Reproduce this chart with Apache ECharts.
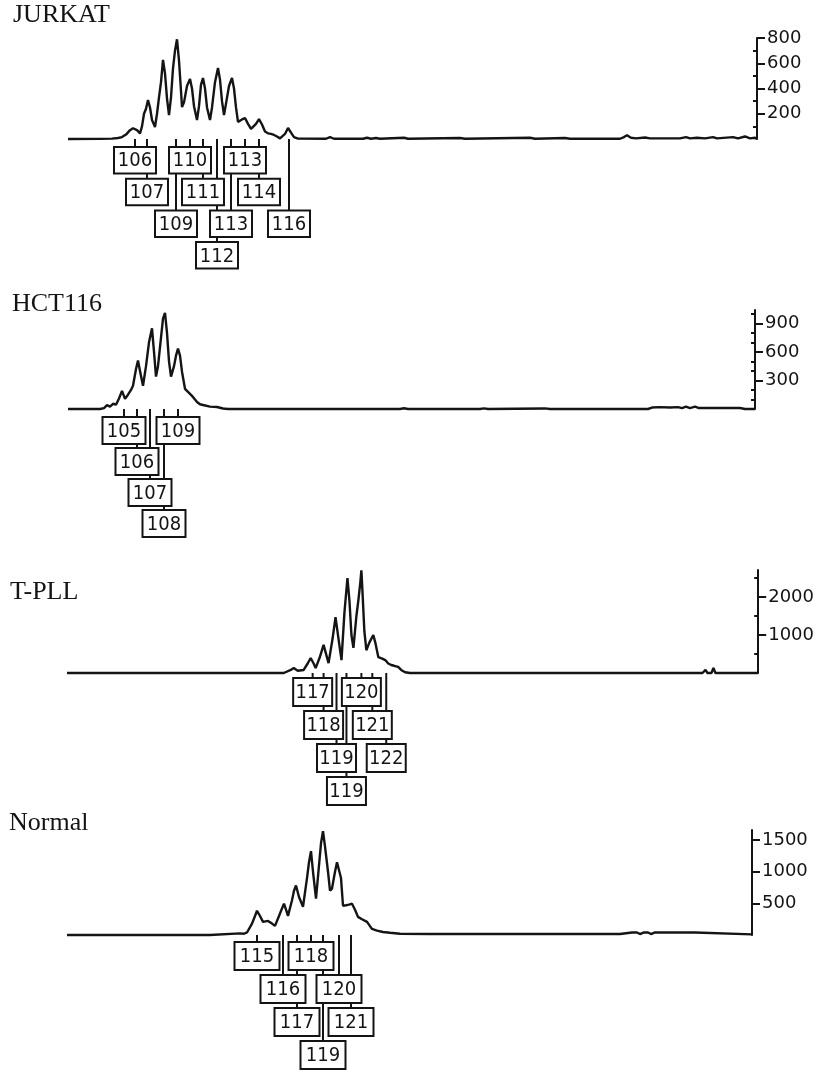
<!DOCTYPE html>
<html><head><meta charset="utf-8">
<script src="https://cdn.jsdelivr.net/npm/echarts@6/dist/echarts.min.js"></script>
<style>html,body{margin:0;padding:0;background:#fff}#c{width:817px;height:1073px}</style>
</head><body><div id="c"></div>
<script>
// ---------------- DATA ----------------
const panelNames = ['JURKAT', 'HCT116', 'T-PLL', 'Normal'];

// traces: [scan position, fluorescence intensity]
const jurkatTrace = [[68,0],[100,1],[112,3],[118,8],[122,15],[126,35],[130,70],[133,85],[135,88],[137,70],[140,45],[142,100],[144,200],[146,240],[148,309],[150,250],[152,150],[155,95],[157,200],[159,330],[161,450],[163,626],[165,520],[167,320],[169,190],[171,330],[173,560],[175,700],[177,790],[179,620],[181,380],[182,253],[184,290],[187,420],[190,475],[192,400],[194,260],[197,150],[199,260],[201,430],[203,483],[205,400],[207,250],[210,150],[212,250],[215,450],[218,562],[220,470],[222,300],[224,190],[226,280],[229,420],[232,483],[234,400],[236,250],[238,135],[240,130],[242,155],[245,166],[248,120],[251,80],[253,75],[256,120],[259,158],[262,115],[265,60],[268,45],[271,40],[274,32],[277,20],[280,5],[282,0],[285,40],[288,87],[291,50],[294,15],[298,3],[326,2],[330,15],[334,2],[363,2],[367,10],[371,2],[376,8],[380,2],[404,10],[408,2],[460,8],[465,2],[530,10],[535,2],[565,8],[570,2],[620,2],[624,15],[627,30],[631,10],[636,5],[645,12],[650,5],[680,5],[686,15],[690,5],[697,10],[705,5],[713,15],[717,5],[733,15],[738,5],[745,20],[750,5],[755,10],[757,0]];
const hct116Trace = [[68,0],[100,0],[104,10],[107,40],[110,25],[113,55],[116,45],[119,110],[122,190],[125,106],[128,150],[131,200],[133,244],[136,420],[138,509],[140,400],[143,244],[146,450],[149,700],[152,848],[154,600],[156,340],[158,450],[161,750],[163,950],[165,1010],[167,800],[169,500],[171,340],[174,450],[176,560],[178,636],[180,560],[182,392],[185,212],[189,170],[192,138],[195,100],[197,74],[200,50],[203,42],[210,25],[217,21],[223,5],[228,0],[400,0],[404,8],[408,0],[480,0],[484,6],[488,0],[545,6],[550,0],[648,0],[652,15],[660,20],[670,15],[678,20],[682,10],[686,25],[690,10],[695,25],[699,10],[720,10],[722,20],[725,10],[740,10],[742,20],[745,0],[755,0]];
const tpllTrace = [[67,0],[200,0],[260,2],[285,0],[292,80],[295,130],[299,60],[305,80],[309,250],[312,395],[315,250],[317,130],[321,400],[325,740],[328,450],[330,260],[334,900],[337,1470],[340,900],[343,340],[346,1600],[349,2500],[351,1900],[353,1000],[355,660],[358,1500],[360,1920],[362,2400],[363,2700],[364,2200],[366,1100],[368,600],[371,800],[375,1000],[377,800],[380,420],[384,380],[387,340],[390,250],[393,210],[396,190],[400,160],[403,80],[407,20],[412,0],[706,0],[709,80],[711,0],[715,0],[717,130],[719,0],[745,0],[747,30],[749,0],[762,0]];
const normalTrace = [[67,0],[210,0],[212,25],[240,25],[244,20],[247,40],[252,180],[255,300],[257,383],[260,300],[263,207],[268,223],[272,180],[275,144],[279,300],[282,420],[284,495],[286,400],[288,303],[292,550],[294,700],[296,782],[299,600],[303,447],[307,900],[309,1150],[311,1325],[313,1000],[316,575],[319,1100],[321,1450],[323,1640],[325,1400],[328,1000],[330,700],[332,734],[335,1000],[337,1150],[339,1181],[341,900],[343,463],[346,470],[349,480],[352,495],[355,400],[358,287],[362,250],[367,207],[370,140],[372,96],[377,70],[383,48],[390,35],[400,20],[430,15],[432,40],[434,15],[560,15],[620,15],[632,40],[637,40],[640,15],[644,40],[648,40],[651,15],[655,40],[695,40],[697,10],[752,10]];

// y-axis tick labels (major) and minor ticks
const jurkatTicks = [200, 400, 600, 800];
const jurkatMinor = [100, 300, 500, 700];
const hct116Ticks = [300, 600, 900];
const hct116Minor = [100, 200, 400, 500, 700, 800, 1000];
const tpllTicks = [1000, 2000];
const tpllMinor = [500, 1500, 2500];
const normalTicks = [500, 1000, 1500];
const normalMinor = [];

// peak labels (allele sizes), the scan position of the peak they point at, and stacking level
const jurkatLabels = ['106','107','109','110','111','112','113','113','114','116'];
const jurkatPeakPos = [135, 147, 176, 190, 203, 217, 245, 231, 259, 289];
const jurkatLevel = [1, 2, 3, 1, 2, 4, 1, 3, 2, 3];
const hct116Labels = ['105','106','107','108','109'];
const hct116PeakPos = [124, 137, 150, 164, 178];
const hct116Level = [1, 2, 3, 4, 1];
const tpllLabels = ['117','118','119','119','120','121','122'];
const tpllPeakPos = [314, 325, 338, 348, 363, 374, 388];
const tpllLevel = [1, 2, 3, 4, 1, 2, 3];
const normalLabels = ['115','116','117','118','119','120','121'];
const normalPeakPos = [257, 283, 297, 311, 323, 339, 351];
const normalLevel = [1, 2, 3, 1, 4, 2, 3];

// ---------------- LAYOUT ----------------
const layout = [
  {xMin:68, xMax:757, top:38,  base:139, yMax:800,  title:{left:13, top:2},   box:{gap:8, pitch:31.7, h:26.5, w:42}},
  {xMin:68, xMax:755, top:310, base:409, yMax:1040, title:{left:12, top:291}, box:{gap:8, pitch:31, h:27, w:43}},
  {xMin:67, xMax:762, top:570, base:673, yMax:2710, title:{left:10, top:579}, box:{gap:5, pitch:33, h:28, w:39}},
  {xMin:67, xMax:752, top:830, base:935, yMax:1660, title:{left:9,  top:810}, box:{gap:7, pitch:33, h:28, w:45}}
];

const traces = [jurkatTrace, hct116Trace, tpllTrace, normalTrace];
const ticks = [jurkatTicks, hct116Ticks, tpllTicks, normalTicks];
const minors = [jurkatMinor, hct116Minor, tpllMinor, normalMinor];
const labels = [jurkatLabels, hct116Labels, tpllLabels, normalLabels];
const peakPos = [jurkatPeakPos, hct116PeakPos, tpllPeakPos, normalPeakPos];
const levels = [jurkatLevel, hct116Level, tpllLevel, normalLevel];

const INK = '#141414';
const grid = [], xAxis = [], yAxis = [], series = [], title = [];

layout.forEach((L, i) => {
  grid.push({left: L.xMin, top: L.top, width: L.xMax - L.xMin, height: L.base - L.top});
  xAxis.push({type:'value', gridIndex:i, min:L.xMin, max:L.xMax, show:false});
  yAxis.push({
    type:'value', gridIndex:i, position:'right', min:0, max:L.yMax,
    axisLine:{show:true, onZero:false, lineStyle:{color:INK, width:2}},
    axisTick:{show:true, inside:false, length:8, customValues:ticks[i], lineStyle:{color:INK, width:2}},
    axisLabel:{show:true, customValues:ticks[i], margin:10, color:INK, fontSize:18, fontFamily:'DejaVu Sans',
      formatter:(v) => String(v)},
    splitLine:{show:false}
  });
  yAxis.push({
    type:'value', gridIndex:i, position:'right', min:0, max:L.yMax,
    axisLine:{show:false},
    axisTick:{show:minors[i].length > 0, inside:true, length:4, customValues:minors[i], lineStyle:{color:INK, width:2}},
    axisLabel:{show:false}, splitLine:{show:false}
  });
  title.push({text: panelNames[i], left: L.title.left, top: L.title.top, padding: 0,
    textStyle:{fontFamily:'Liberation Serif', fontSize:26, fontWeight:'normal', color:INK}});

  series.push({
    type:'line', xAxisIndex:i, yAxisIndex:2*i, data:traces[i], showSymbol:false, symbol:'none',
    lineStyle:{color:INK, width:2.4}, z:2, clip:false, animation:false
  });

  const marks = peakPos[i].map((p, k) => [p, levels[i][k]]);
  const B = L.box;
  const boxTop = (api) => {
    const p = api.coord([api.value(0), 0]);
    return [p[0], p[1], p[1] + B.gap + (api.value(1) - 1) * B.pitch];
  };
  series.push({
    type:'custom', xAxisIndex:i, yAxisIndex:2*i, data:marks, z:3, clip:false, animation:false,
    encode:{x:0, y:-1},
    renderItem:(params, api) => {
      const [x, y0, t] = boxTop(api);
      return {type:'line', shape:{x1:x, y1:y0, x2:x, y2:t}, style:{stroke:INK, lineWidth:2}};
    }
  });
  const labs = labels[i];
  series.push({
    type:'custom', xAxisIndex:i, yAxisIndex:2*i, data:marks, z:4, clip:false, animation:false,
    encode:{x:0, y:-1},
    renderItem:(params, api) => {
      const [x, y0, t] = boxTop(api);
      return {type:'group', children:[
        {type:'rect', shape:{x:x - B.w/2, y:t, width:B.w, height:B.h},
          style:{fill:'#fff', stroke:INK, lineWidth:2}},
        {type:'text', style:{text:labs[params.dataIndex], x:x, y:t + B.h/2 + 1, align:'center', verticalAlign:'middle',
          fontSize:20, fontFamily:"'DejaVu Sans Condensed', 'DejaVu Sans'", fill:INK}}
      ]};
    }
  });
});

const chart = echarts.init(document.getElementById('c'), null, {renderer:'canvas'});
chart.setOption({animation:false, backgroundColor:'#fff', title, grid, xAxis, yAxis, series});
</script>
</body></html>
